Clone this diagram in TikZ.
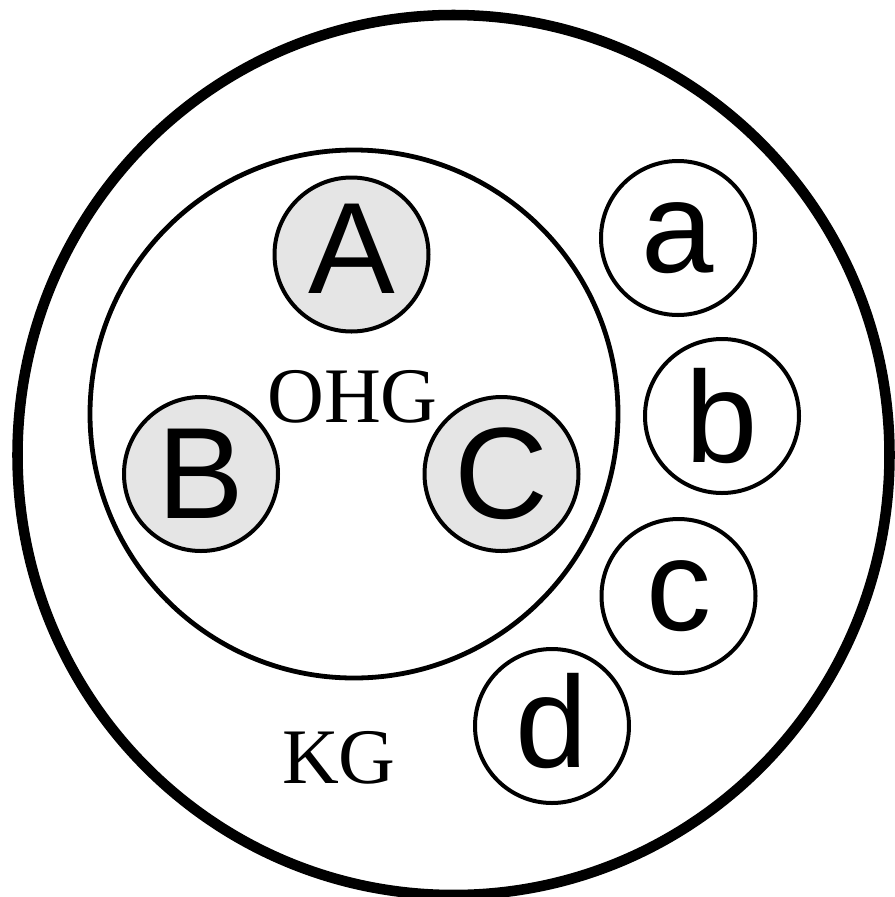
\documentclass[tikz,border=0pt]{standalone}
\usepackage{fontspec}
\setmainfont{Liberation Serif}
\newfontfamily\letterfont{Liberation Sans}
\usetikzlibrary{shapes.geometric}
\definecolor{shadegray}{RGB}{229,229,229}
\begin{document}
\begin{tikzpicture}[x=0.75pt,y=-0.75pt,
  outerring/.style={draw,ellipse,line width=7.9pt,minimum width=872*0.75pt,minimum height=880*0.75pt,inner sep=0pt},
  innerring/.style={draw,circle,line width=3.6pt,minimum size=528*0.75pt,inner sep=0pt},
  member/.style={draw,circle,line width=3pt,minimum size=154*0.75pt,inner sep=0pt,
    font=\letterfont\fontsize{97.5}{100}\selectfont},
  partner/.style={member,fill=shadegray},
  grouplabel/.style={inner sep=0pt,font=\fontsize{59}{62}\selectfont}
]
\useasboundingbox (0,0) rectangle (895,897);
\node[outerring] (KGring) at (453.5,455) {};
\node[innerring] (OHGring) at (354,414) {};
\node[partner,text depth=9pt] (A) at (351.5,254.5) {A};
\node[partner] (B) at (201,474) {B};
\node[partner] (C) at (501.5,474) {C};
\node[member] (a) at (678,238) {a};
\node[member] (b) at (722,416) {b};
\node[member] (c) at (678.5,596) {c};
\node[member,text depth=9pt] (d) at (552,726) {d};
\node[grouplabel] (OHG) at (352.5,396.5) {OHG};
\node[grouplabel] (KG) at (339,757.5) {KG};
\end{tikzpicture}
\end{document}
